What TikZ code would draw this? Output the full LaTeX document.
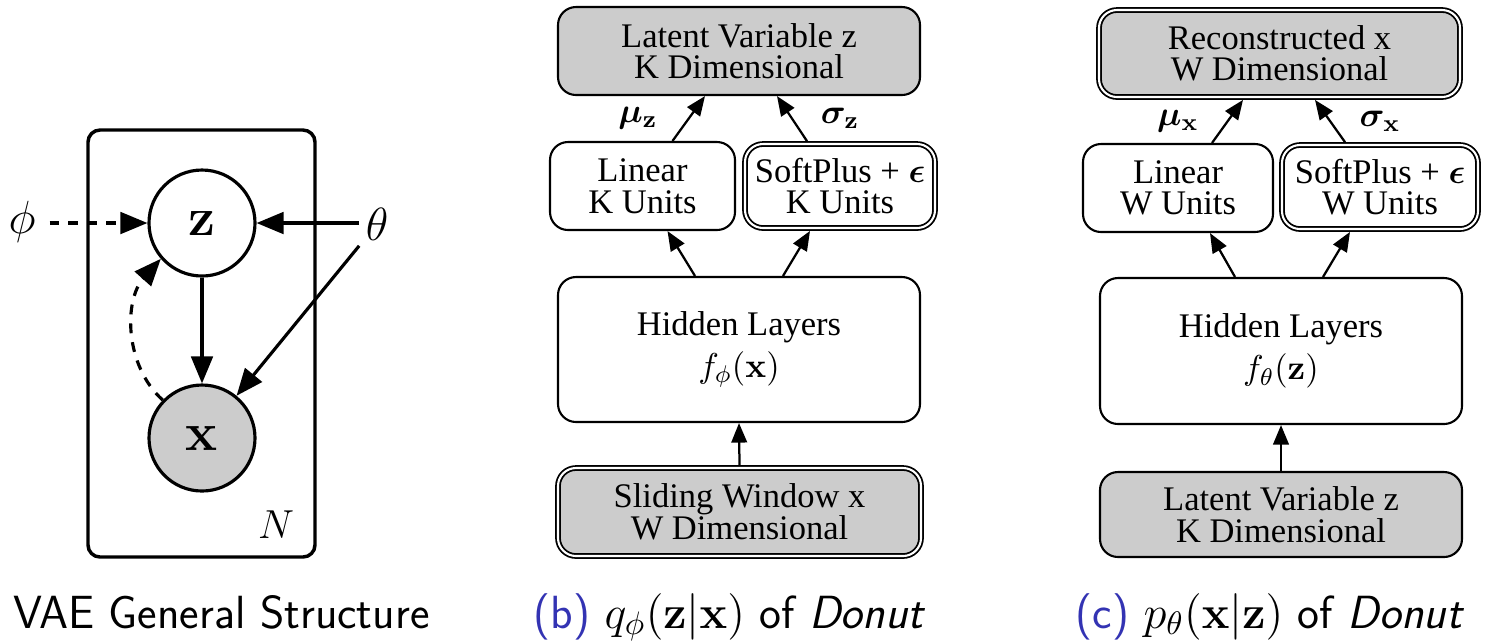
\RequirePackage{fix-cm}
\documentclass[tikz,border=0pt]{standalone}
\usepackage{bm}
\usepackage[no-math]{fontspec}
\setmainfont{Liberation Serif}
\usetikzlibrary{arrows.meta,calc}

% one drawing unit is one third of a point
\newcommand\px[1]{#1*0.33333pt}
\newcommand\boxfont{\fontsize{11.5}{10.5}\selectfont}
\newcommand\capfont{\fontsize{15.5}{18}\selectfont\sffamily}
\newcommand\varfont{\fontsize{18}{20}\selectfont}
\newcommand\parfont{\fontsize{15.5}{18}\selectfont}
\definecolor{capblue}{RGB}{51,51,179}
\definecolor{nodegray}{gray}{0.8}

\tikzset{
  box/.style={draw, line width=0.7pt, rounded corners=6pt, inner sep=0pt,
              align=center, font=\boxfont},
  dbox/.style={box, double, double distance=0.7pt, line width=0.6pt},
  shaded/.style={fill=nodegray},
  arr/.style={-{Triangle[length=6.5pt,width=5.2pt]}, line width=0.75pt},
  larr/.style={-{Triangle[length=9pt,width=7.2pt]}, line width=1.05pt},
  ldash/.style={dash pattern=on 3.3pt off 3pt},
  rv/.style={circle, draw, line width=1.05pt, minimum size=\px{106}, inner sep=0pt,
             font=\varfont},
  captext/.style={anchor=base west, inner sep=0pt, font=\capfont},
  lbl/.style={font=\boxfont, inner sep=1pt}
}

\begin{document}
\begin{tikzpicture}[x=0.33333pt, y=-0.33333pt]
\useasboundingbox (0,0) rectangle (1488,641);
\fill[white] (0,0) rectangle (1488,641);

% ---------- graphical model ----------
\draw[line width=1.15pt, rounded corners=4pt] (88,130) rectangle (315,557);
\node[rv] (zc) at (202,223) {$\mathbf{z}$};
\node[rv, shaded] (xc) at (202,438) {$\mathbf{x}$};
\node[font=\parfont, inner sep=4.5pt] (phi) at (22,222) {$\phi$};
\node[font=\parfont, inner sep=2pt] (th) at (377,224) {$\theta$};
\node[font=\fontsize{13.5}{15}\selectfont, inner sep=0pt] (nlab) at (276,525) {$N$};

\draw[larr, ldash] (phi.east |- zc) -- (zc);
\draw[larr] (th.west |- zc) -- (zc);
\draw[larr] (zc) -- (xc);
\draw[larr] (th) -- (xc);
\draw[larr, ldash] (xc.136) .. controls (124,365) and (124,300) .. (zc.221);

% ---------- encoder q(z|x) ----------
\node[box, shaded, minimum width=\px{362}, minimum height=\px{88}] (qtop) at (739,51)
  {Latent Variable z\\K Dimensional};
\node[box, minimum width=\px{185}, minimum height=\px{88}] (qlin) at (642.5,186)
  {Linear\\K Units};
\node[dbox, minimum width=\px{190}, minimum height=\px{84}] (qsoft) at (840,186)
  {SoftPlus + $\bm{\epsilon}$\\K Units};
\node[box, minimum width=\px{362}, minimum height=\px{145}] (qhid) at (739,349.5)
  {Hidden Layers\\[2pt]$f_\phi(\mathbf{x})$};
\node[dbox, shaded, minimum width=\px{363}, minimum height=\px{88}] (qin) at (739.5,512)
  {Sliding Window x\\W Dimensional};

\draw[arr] ($(qhid.north)+(-44,0)$) -- ($(qlin.south)+(25,0)$);
\draw[arr] ($(qhid.north)+(44,0)$) -- ($(qsoft.south)+(-30,2)$);
\draw[arr] ($(qlin.north)+(30,0)$) -- ($(qtop.south)+(-34,0)$);
\draw[arr] ($(qsoft.north)+(-33,-2)$) -- ($(qtop.south)+(38,0)$);
\draw[arr] ($(qin.north)+(0,-2)$) -- (qhid.south);

\node[lbl] (muz) at (638,118) {$\bm{\mu}_{\mathbf{z}}$};
\node[lbl] (sgz) at (840,118) {$\bm{\sigma}_{\mathbf{z}}$};

% ---------- decoder p(x|z) ----------
\node[dbox, shaded, minimum width=\px{361}, minimum height=\px{87}] (ptop) at (1279.5,53.5)
  {Reconstructed x\\W Dimensional};
\node[box, minimum width=\px{190}, minimum height=\px{88}] (plin) at (1178,188)
  {Linear\\W Units};
\node[dbox, minimum width=\px{196}, minimum height=\px{84}] (psoft) at (1380,187)
  {SoftPlus + $\bm{\epsilon}$\\W Units};
\node[box, minimum width=\px{362}, minimum height=\px{146}] (phid) at (1281,351)
  {Hidden Layers\\[2pt]$f_\theta(\mathbf{z})$};
\node[box, shaded, minimum width=\px{362}, minimum height=\px{85}] (pin) at (1281,514.5)
  {Latent Variable z\\K Dimensional};

\draw[arr] ($(phid.north)+(-46,0)$) -- ($(plin.south)+(32,0)$);
\draw[arr] ($(phid.north)+(42,0)$) -- ($(psoft.south)+(-30,2)$);
\draw[arr] ($(plin.north)+(34,0)$) -- ($(ptop.south)+(-36.5,2)$);
\draw[arr] ($(psoft.north)+(-35,-2)$) -- ($(ptop.south)+(35.5,2)$);
\draw[arr] (pin.north) -- (phid.south);

\node[lbl] (mux) at (1178,121) {$\bm{\mu}_{\mathbf{x}}$};
\node[lbl] (sgx) at (1380,121) {$\bm{\sigma}_{\mathbf{x}}$};

% ---------- captions ----------
\node[captext] (capa) at (13,628) {VAE General Structure};
\node[captext] (capb) at (533,628)
  {{\color{capblue}(b)} $q_\phi(\mathbf{z}|\mathbf{x})$ of \textsl{Donut}};
\node[captext] (capc) at (1075,628)
  {{\color{capblue}(c)} $p_\theta(\mathbf{x}|\mathbf{z})$ of \textsl{Donut}};
\end{tikzpicture}
\end{document}
